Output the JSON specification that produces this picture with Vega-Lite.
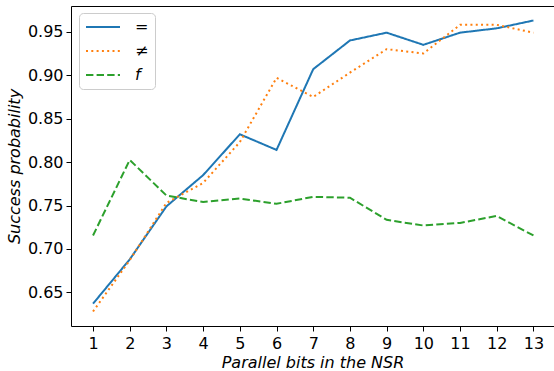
{
  "$schema": "https://vega.github.io/schema/vega-lite/v6.json",
  "autosize": {"type": "none"},
  "width": 483,
  "height": 320,
  "padding": {"left": 71, "top": 6, "right": 0, "bottom": 45},
  "config": {
    "font": "DejaVu Sans",
    "view": {"stroke": null},
    "axis": {
      "grid": false,
      "domainColor": "#000000",
      "domainWidth": 1,
      "tickColor": "#000000",
      "tickWidth": 1,
      "tickSize": 5,
      "labelColor": "#000000",
      "labelFontSize": 16,
      "labelFont": "DejaVu Sans",
      "titleColor": "#000000",
      "titleFont": "DejaVu Sans",
      "titleFontSize": 16,
      "titleFontWeight": "normal",
      "titleFontStyle": "italic"
    }
  },
  "data": {
    "values": [
      {"x": 1, "series": "=", "y": 0.637},
      {"x": 2, "series": "=", "y": 0.688},
      {"x": 3, "series": "=", "y": 0.749},
      {"x": 4, "series": "=", "y": 0.785},
      {"x": 5, "series": "=", "y": 0.832},
      {"x": 6, "series": "=", "y": 0.814},
      {"x": 7, "series": "=", "y": 0.907},
      {"x": 8, "series": "=", "y": 0.940},
      {"x": 9, "series": "=", "y": 0.949},
      {"x": 10, "series": "=", "y": 0.935},
      {"x": 11, "series": "=", "y": 0.949},
      {"x": 12, "series": "=", "y": 0.954},
      {"x": 13, "series": "=", "y": 0.963},
      {"x": 1, "series": "≠", "y": 0.628},
      {"x": 2, "series": "≠", "y": 0.687},
      {"x": 3, "series": "≠", "y": 0.753},
      {"x": 4, "series": "≠", "y": 0.776},
      {"x": 5, "series": "≠", "y": 0.823},
      {"x": 6, "series": "≠", "y": 0.897},
      {"x": 7, "series": "≠", "y": 0.875},
      {"x": 8, "series": "≠", "y": 0.903},
      {"x": 9, "series": "≠", "y": 0.930},
      {"x": 10, "series": "≠", "y": 0.925},
      {"x": 11, "series": "≠", "y": 0.958},
      {"x": 12, "series": "≠", "y": 0.958},
      {"x": 13, "series": "≠", "y": 0.949},
      {"x": 1, "series": "f", "y": 0.7155},
      {"x": 2, "series": "f", "y": 0.8025},
      {"x": 3, "series": "f", "y": 0.7615},
      {"x": 4, "series": "f", "y": 0.754},
      {"x": 5, "series": "f", "y": 0.758},
      {"x": 6, "series": "f", "y": 0.752},
      {"x": 7, "series": "f", "y": 0.760},
      {"x": 8, "series": "f", "y": 0.759},
      {"x": 9, "series": "f", "y": 0.7335},
      {"x": 10, "series": "f", "y": 0.727},
      {"x": 11, "series": "f", "y": 0.730},
      {"x": 12, "series": "f", "y": 0.738},
      {"x": 13, "series": "f", "y": 0.7155}
    ]
  },
  "layer": [
    {
      "mark": {"type": "line", "strokeWidth": 2},
      "encoding": {
        "x": {
          "field": "x",
          "type": "quantitative",
          "scale": {"domain": [0.4, 13.56], "nice": false, "zero": false},
          "axis": {
            "orient": "bottom",
            "values": [1, 2, 3, 4, 5, 6, 7, 8, 9, 10, 11, 12, 13],
            "format": "d",
            "labelPadding": 4,
            "titlePadding": 3,
            "title": "Parallel bits in the NSR"
          }
        },
        "y": {
          "field": "y",
          "type": "quantitative",
          "scale": {"domain": [0.6113, 0.9797], "nice": false, "zero": false},
          "axis": {
            "values": [0.65, 0.7, 0.75, 0.8, 0.85, 0.9, 0.95],
            "format": ".2f",
            "labelPadding": 3,
            "titlePadding": 5,
            "title": "Success probability"
          }
        },
        "color": {
          "field": "series",
          "type": "nominal",
          "scale": {"domain": ["=", "≠", "f"], "range": ["#1f77b4", "#ff7f0e", "#2ca02c"]},
          "legend": {
            "title": null,
            "orient": "none",
            "legendX": 8,
            "legendY": 7,
            "padding": 6,
            "rowPadding": 8,
            "clipHeight": 16,
            "symbolType": "stroke",
            "symbolSize": 1156,
            "symbolStrokeWidth": 2,
            "labelOffset": 14,
            "labelFontSize": 16,
            "labelFont": "DejaVu Sans",
            "labelColor": "#000000",
            "labelExpr": "datum.label + '\u00a0'",
            "strokeColor": "#cccccc",
            "fillColor": "rgba(255,255,255,0.8)",
            "cornerRadius": 4,
            "encode": {
              "labels": {"update": {"fontStyle": {"signal": "datum.label === 'f' ? 'italic' : 'normal'"}}}
            }
          }
        },
        "strokeDash": {
          "field": "series",
          "type": "nominal",
          "scale": {"domain": ["=", "≠", "f"], "range": [[1, 0], [2, 3.3], [7.4, 3.2]]},
          "legend": {
            "title": null,
            "orient": "none",
            "legendX": 8,
            "legendY": 7,
            "padding": 6,
            "rowPadding": 8,
            "clipHeight": 16,
            "symbolType": "stroke",
            "symbolSize": 1156,
            "symbolStrokeWidth": 2,
            "labelOffset": 14,
            "labelFontSize": 16,
            "labelFont": "DejaVu Sans",
            "labelColor": "#000000",
            "labelExpr": "datum.label + '\u00a0'",
            "strokeColor": "#cccccc",
            "fillColor": "rgba(255,255,255,0.8)",
            "cornerRadius": 4,
            "encode": {
              "labels": {"update": {"fontStyle": {"signal": "datum.label === 'f' ? 'italic' : 'normal'"}}}
            }
          }
        }
      }
    },
    {
      "mark": {"type": "point", "opacity": 0},
      "encoding": {
        "x": {
          "field": "x",
          "type": "quantitative",
          "axis": {"orient": "top", "labels": false, "ticks": false, "title": null, "domain": true}
        },
        "y": {"field": "y", "type": "quantitative"}
      }
    }
  ],
  "resolve": {"axis": {"x": "independent"}}
}
